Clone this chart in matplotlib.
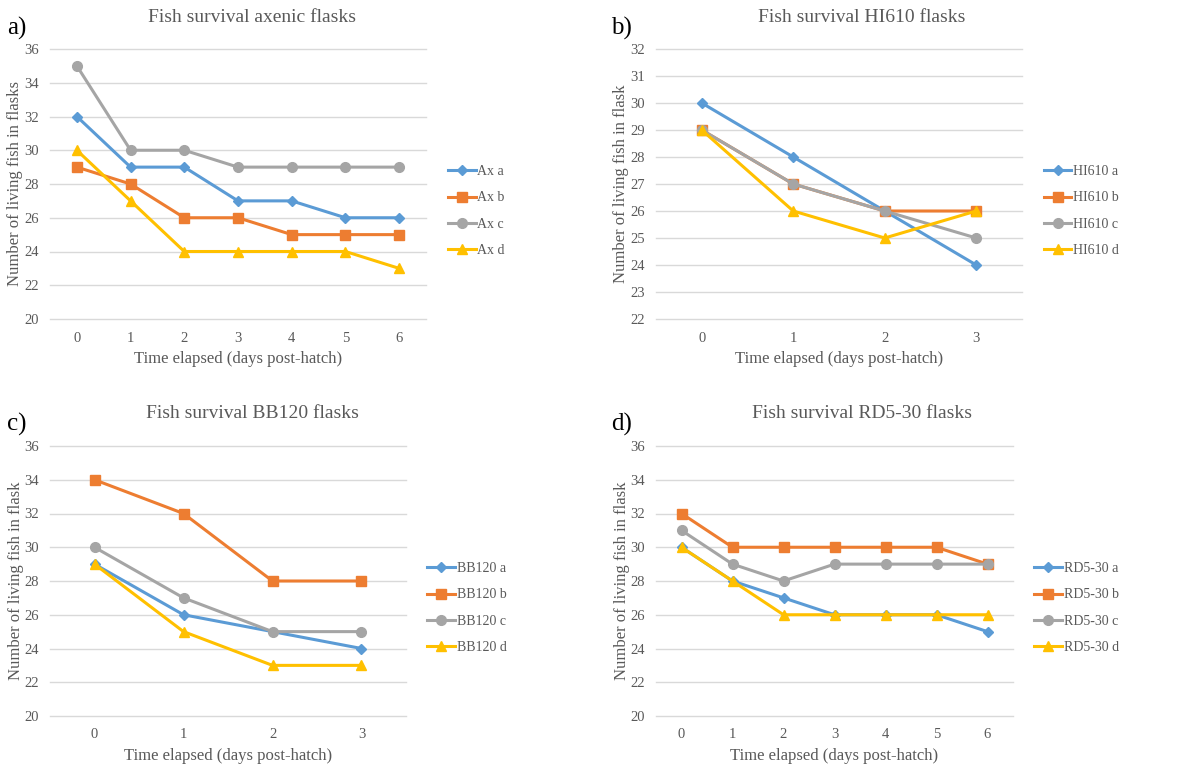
import matplotlib.pyplot as plt

plt.rcParams['font.family'] = ['Liberation Serif', 'DejaVu Serif']

# panel a) axenic
days_a = [0, 1, 2, 3, 4, 5, 6]
ax_a = [32, 29, 29, 27, 27, 26, 26]
ax_b = [29, 28, 26, 26, 25, 25, 25]
ax_c = [35, 30, 30, 29, 29, 29, 29]
ax_d = [30, 27, 24, 24, 24, 24, 23]

# panel b) HI610
days_b = [0, 1, 2, 3]
hi_a = [30, 28, 26, 24]
hi_b = [29, 27, 26, 26]
hi_c = [29, 27, 26, 25]
hi_d = [29, 26, 25, 26]

# panel c) BB120
days_c = [0, 1, 2, 3]
bb_a = [29, 26, 25, 24]
bb_b = [34, 32, 28, 28]
bb_c = [30, 27, 25, 25]
bb_d = [29, 25, 23, 23]

# panel d) RD5-30
days_d = [0, 1, 2, 3, 4, 5, 6]
rd_a = [30, 28, 27, 26, 26, 26, 25]
rd_b = [32, 30, 30, 30, 30, 30, 29]
rd_c = [31, 29, 28, 29, 29, 29, 29]
rd_d = [30, 28, 26, 26, 26, 26, 26]

colors = ['#5B9BD5', '#ED7D31', '#A5A5A5', '#FFC000']
markers = ['D', 's', 'o', '^']
msizes = [5, 7, 7, 7]
text_col = '#595959'

W, H = 1189, 766
fig = plt.figure(figsize=(W / 100, H / 100), dpi=100)


def px_axes(x0, y0, x1, y1):
    return fig.add_axes([x0 / W, 1 - y1 / H, (x1 - x0) / W, (y1 - y0) / H])


def panel(ax, days, series, names, ylim, ystep, ylabel, title, tag, title_xy, tag_xy):
    for s, name, c, m, ms in zip(series, names, colors, markers, msizes):
        ax.plot(days, s, color=c, lw=2.2, marker=m, ms=ms, label=name, zorder=3)
    ax.set_xlim(-0.5, len(days) - 0.5)
    ax.set_ylim(*ylim)
    ax.set_xticks(days)
    ax.set_yticks(range(ylim[0], ylim[1] + 1, ystep))
    ax.grid(axis='y', color='#D9D9D9', lw=1)
    for gl in ax.get_ygridlines():
        gl.set_clip_on(False)
    ax.set_axisbelow(True)
    for sp in ax.spines.values():
        sp.set_visible(False)
    ax.tick_params(length=0, labelsize=10.5, colors=text_col)
    ax.tick_params(axis='x', pad=9)
    ax.tick_params(axis='y', pad=8)
    ax.set_xlabel('Time elapsed (days post-hatch)', fontsize=12, color=text_col)
    ax.xaxis.set_label_coords(0.5, -0.118)
    ax.set_ylabel(ylabel, fontsize=12, color=text_col)
    ax.yaxis.set_label_coords(-0.073, 0.5)
    ax.legend(loc='center left', bbox_to_anchor=(1.025, 0.40), frameon=False,
              fontsize=10, labelspacing=0.95, handlelength=2.0, handletextpad=0.1,
              labelcolor=text_col)
    fig.text(title_xy[0] / W, 1 - title_xy[1] / H, title, ha='center', va='center',
             fontsize=14, color=text_col)
    fig.text(tag_xy[0] / W, 1 - tag_xy[1] / H, tag, ha='left', va='center',
             fontsize=18, color='black')


a1 = px_axes(50, 49, 426, 319)
panel(a1, days_a, [ax_a, ax_b, ax_c, ax_d], ['Ax a', 'Ax b', 'Ax c', 'Ax d'],
      (20, 36), 2, 'Number of living fish in flasks', 'Fish survival axenic flasks',
      'a)', (252, 18), (7, 28))

a2 = px_axes(656, 49, 1022, 319)
panel(a2, days_b, [hi_a, hi_b, hi_c, hi_d], ['HI610 a', 'HI610 b', 'HI610 c', 'HI610 d'],
      (22, 32), 1, 'Number of living fish in flask', 'Fish survival HI610 flasks',
      'b)', (862, 18), (611, 28))

a3 = px_axes(50, 446, 406, 716)
panel(a3, days_c, [bb_a, bb_b, bb_c, bb_d], ['BB120 a', 'BB120 b', 'BB120 c', 'BB120 d'],
      (20, 36), 2, 'Number of living fish in flask', 'Fish survival BB120 flasks',
      'c)', (252, 414), (7, 424))

a4 = px_axes(656, 446, 1013, 716)
panel(a4, days_d, [rd_a, rd_b, rd_c, rd_d], ['RD5-30 a', 'RD5-30 b', 'RD5-30 c', 'RD5-30 d'],
      (20, 36), 2, 'Number of living fish in flask', 'Fish survival RD5-30 flasks',
      'd)', (862, 414), (611, 424))

fig.savefig('out.png', dpi=100)
